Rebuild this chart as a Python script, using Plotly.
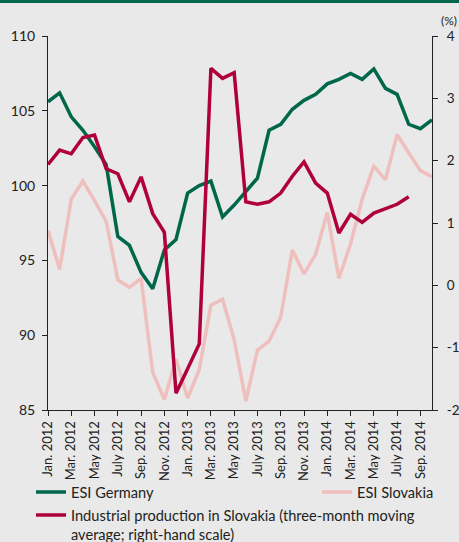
import plotly.graph_objects as go

months = [f"{m} {y}" for y in (2012, 2013, 2014) for m in
          ["Jan", "Feb", "Mar", "Apr", "May", "Jun", "Jul", "Aug", "Sep", "Oct", "Nov", "Dec"]][:34]

tick_labels = ["Jan. 2012", "Mar. 2012", "May 2012", "July 2012", "Sep. 2012", "Nov. 2012",
               "Jan. 2013", "Mar. 2013", "May 2013", "July 2013", "Sep. 2013", "Nov. 2013",
               "Jan. 2014", "Mar. 2014", "May 2014", "July 2014", "Sep. 2014"]

right_ticks = [-2, -1, 0, 1, 2, 3, 4]
right_tick_labels = ["-2", "-1", "0", "1", "2", "3", "4"]

esi_germany = [105.6, 106.2, 104.6, 103.7, 102.6, 101.4, 96.6, 96.0, 94.2, 93.1, 95.7, 96.4,
               99.5, 100.0, 100.3, 97.9, 98.7, 99.6, 100.5, 103.7, 104.1, 105.1, 105.7, 106.1,
               106.8, 107.1, 107.5, 107.1, 107.8, 106.5, 106.1, 104.1, 103.8, 104.4]

esi_slovakia = [97.0, 94.4, 99.1, 100.3, 99.0, 97.6, 93.7, 93.2, 93.8, 87.5, 85.7, 88.4,
                85.8, 87.7, 92.0, 92.4, 89.7, 85.6, 89.0, 89.6, 91.2, 95.7, 94.1, 95.4,
                98.2, 93.8, 96.1, 99.1, 101.3, 100.4, 103.4, 102.2, 101.0, 100.6]

ind_prod_sk = [1.94, 2.17, 2.11, 2.37, 2.41, 1.87, 1.79, 1.34, 1.74, 1.15, 0.85, -1.73,
               -1.34, -0.94, 3.48, 3.32, 3.41, 1.34, 1.30, 1.34, 1.48, 1.75, 1.98, 1.64,
               1.48, 0.84, 1.14, 1.01, 1.16, 1.23, 1.30, 1.42]

GREEN = "#00674a"
RED = "#b0003c"
PINK = "#efbfbd"
BG = "#e8e9e8"
INK = "#222222"
FONT = "Lato"
W, H = 459, 542

fig = go.Figure()
fig.add_trace(go.Scatter(x=months, y=esi_slovakia, mode="lines", name="ESI Slovakia",
                         line=dict(color=PINK, width=3.5), legend="legend2"))
fig.add_trace(go.Scatter(x=months, y=esi_germany, mode="lines", name="ESI Germany",
                         line=dict(color=GREEN, width=3.5), legend="legend"))
fig.add_trace(go.Scatter(x=months[:len(ind_prod_sk)], y=ind_prod_sk, mode="lines",
                         name="Industrial production in Slovakia (three-month moving<br>average; right-hand scale)",
                         line=dict(color=RED, width=3.5), yaxis="y2", legend="legend3"))

leg_common = dict(xref="container", yref="container", bgcolor="rgba(0,0,0,0)",
                  font=dict(family=FONT, size=14.6, color=INK), valign="top", borderwidth=0)

fig.update_layout(
    width=W, height=H,
    margin=dict(l=48, r=27, t=36, b=132, autoexpand=False),
    paper_bgcolor=BG, plot_bgcolor=BG,
    font=dict(family=FONT, size=13, color=INK),
    showlegend=True,
    legend=dict(x=31 / W, xanchor="left", y=1 - 492 / H, yanchor="middle", **leg_common),
    legend2=dict(x=317 / W, xanchor="left", y=1 - 492 / H, yanchor="middle", **leg_common),
    legend3=dict(x=31 / W, xanchor="left", y=1 - 499 / H, yanchor="top", **leg_common),
    xaxis=dict(type="category", categoryorder="array", categoryarray=months,
               range=[0, len(months) - 1], automargin=False,
               tickvals=months[::2], ticktext=tick_labels, tickangle=-90,
               showgrid=False, showline=True, linecolor=INK, linewidth=1,
               ticks="outside", ticklen=5, tickcolor=INK,
               tickfont=dict(family=FONT, size=13, color=INK), zeroline=False),
    yaxis=dict(range=[85, 110], dtick=5, showgrid=False, showline=True, linecolor=INK,
               ticks="outside", ticklen=5, tickcolor=INK, zeroline=False, automargin=False,
               ticklabelstandoff=4,
               tickfont=dict(family=FONT, size=14, color=INK)),
    yaxis2=dict(range=[-2, 4], tickvals=right_ticks, ticktext=right_tick_labels,
                overlaying="y", side="right", showgrid=False, automargin=False,
                showline=True, linecolor=INK, ticks="outside", ticklen=5,
                tickcolor=INK, zeroline=False, ticklabelstandoff=6,
                tickfont=dict(family=FONT, size=13.5, color=INK)),
    shapes=[dict(type="rect", xref="paper", yref="paper", x0=-0.2, x1=1.2,
                 y0=1 + 33 / 374, y1=1 + 40 / 374, fillcolor=GREEN, line=dict(width=0))],
    annotations=[dict(text="(%)", xref="paper", yref="paper", x=1.0 + 17 / 384, y=1.0 + 6 / 374,
                      xanchor="center", yanchor="bottom", showarrow=False,
                      font=dict(family=FONT, size=12, color=INK))],
)

fig.write_html("out.html", config={"displayModeBar": False},
               post_script="document.body.style.margin='0';document.body.style.padding='0';"
                           "document.body.style.background='" + BG + "';")
